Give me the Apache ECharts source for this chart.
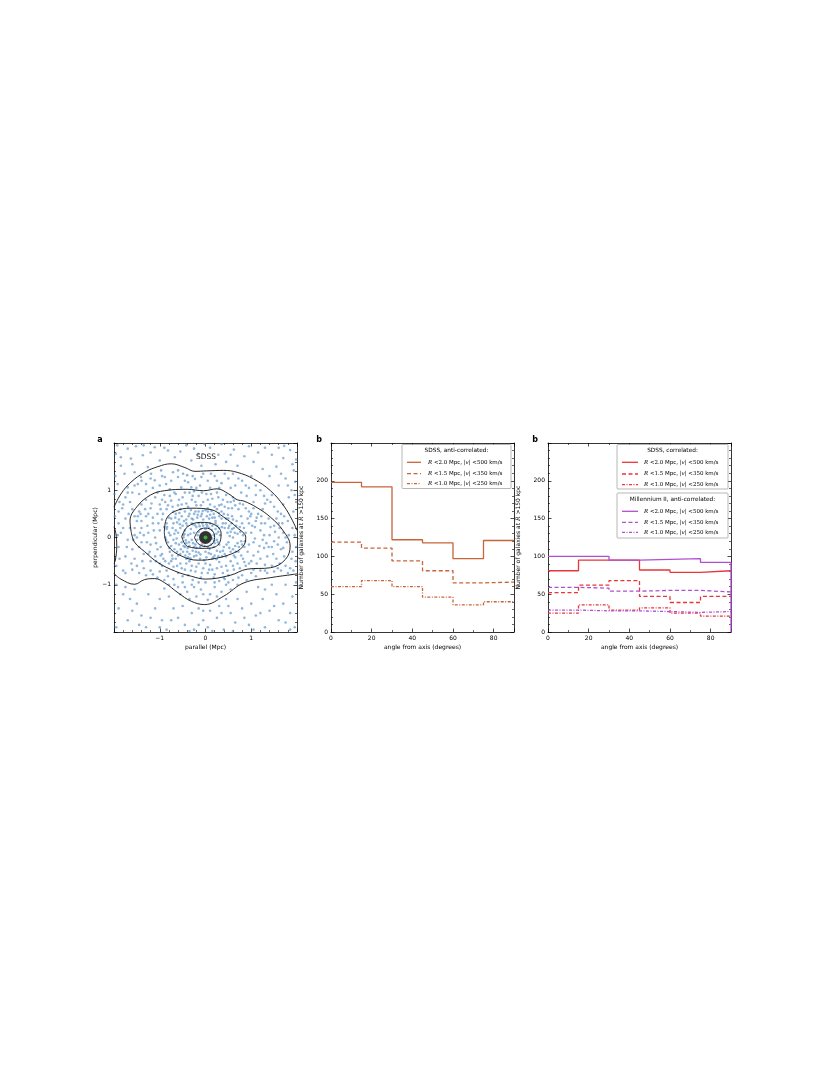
<!DOCTYPE html>
<html><head><meta charset="utf-8">
<script src="https://cdn.jsdelivr.net/npm/echarts@6/dist/echarts.min.js"></script>
<style>html,body{margin:0;padding:0;background:#fff}#c{width:830px;height:1075px}</style>
</head><body><div id="c"></div>
<script>
// ---------- DATA ----------
const binEdges = [0, 15, 30, 45, 60, 75, 90];
// panel b: SDSS anti-correlated
const bR20 = [198, 192, 122, 118, 97, 121];
const bR15 = [119, 111, 94, 81, 65, 66];
const bR10 = [60, 68, 60, 46, 36, 40];
// panel c: SDSS correlated
const cSdssR20 = [81, 95, 95, 82, 79, 81];
const cSdssR15 = [52, 62, 68, 47, 39, 47];
const cSdssR10 = [25, 36, 29, 32, 25, 21];
// panel c: Millennium II anti-correlated
const cMilR20 = [100, 100, 95, 96, 97, 92];
const cMilR15 = [59, 58, 54, 55, 55, 53];
const cMilR10 = [29, 28, 28, 27, 26, 27];

const xTicksA = [-1, 0, 1];
const yTicksA = [-1, 0, 1];

// panel a: galaxy positions (Mpc)
const galaxyPoints = [
[-1.93,1.95],[-1.52,1.93],[-1.11,1.91],[-0.82,1.84],[-0.42,1.95],[-1.96,1.77],[-1.63,1.67],[-1.37,1.74],[-1.0,1.63],[-0.67,1.7],[-0.31,1.63],[-0.16,1.77],[-1.85,1.52],[-1.26,1.49],[-0.09,1.52],[0.1,1.9],[0.28,1.75],[0.62,1.86],[0.95,1.93],[1.3,1.9],[1.72,1.94],[1.98,1.65],[1.93,1.42],[1.7,1.68],[1.45,1.75],[1.05,1.6],[0.85,1.72],[0.45,1.6],[0.22,1.55],[-0.55,1.82],[-1.7,1.88],[1.55,1.5],[1.25,1.45],[0.7,1.52],[-0.02,1.98],[0.35,1.98],[1.85,1.85],[-1.2,1.8],[1.96,1.18],[1.88,1.0],[1.98,0.75],[1.75,1.25],[1.6,1.1],[1.82,0.85],
[-1.77,1.35],[-1.55,1.38],[-1.41,1.28],[-1.19,1.35],[-0.97,1.42],[-0.89,1.28],[-0.71,1.38],[-0.6,1.28],[-0.49,1.35],[-0.38,1.17],[-0.23,1.24],[-0.09,1.28],[-1.92,1.13],[-1.7,1.06],[-1.48,1.13],[-1.3,1.13],[-1.11,1.21],[-0.86,1.13],[-0.78,1.02],[-0.53,1.06],[-0.31,1.06],[-0.12,1.1],[-1.99,0.92],[0.05,1.2],[0.2,1.3],[0.35,1.15],[0.5,1.25],[0.65,1.1],[0.8,1.2],[0.95,1.05],[1.1,0.9],[1.2,1.0],[1.35,0.8],[1.5,0.65],[1.45,0.9],[1.65,0.5],[1.8,0.35],[1.7,0.7],[1.9,0.2],[0.9,0.88],[1.05,0.75],[1.25,0.6],[0.12,1.35],[0.6,1.35],[-1.88,0.75],[-1.75,0.85],[-1.6,0.95],[-1.45,0.92],[-1.3,0.98],[-1.15,1.05],[-1.0,1.1],[-0.4,1.32],[-0.2,1.05],[0.3,1.05],[1.0,1.3],[-1.65,0.75],[-1.82,0.62],[1.3,0.72],[0.78,0.95],
[1.95,0.05],[1.9,-0.3],[1.97,-0.5],[1.85,-0.65],[1.98,-0.2],[1.92,-0.7],
[-1.98,0.45],[-1.9,0.3],[-1.75,0.4],[-1.65,0.2],[-1.85,0.1],[-1.7,-0.05],[-1.9,-0.2],[-1.6,-0.25],[-1.75,-0.4],[-1.95,-0.6],[-1.62,-0.55],[-1.8,-0.7],[-1.5,-0.6],[-1.68,0.5],[-1.58,-0.05],[-1.88,-0.45],[-1.55,0.45],
[-1.4,0.7],[-1.3,0.8],[-1.2,0.62],[-1.1,0.85],[-1.0,0.7],[-0.9,0.9],[-0.85,0.6],[-0.75,0.78],[-0.65,0.92],[-0.6,0.68],[-0.5,0.85],[-0.42,0.72],[-0.35,0.95],[-0.3,0.8],[-0.2,0.68],[-0.15,0.88],[-0.05,0.75],[0.02,0.92],[0.1,0.7],[0.15,0.82],[0.25,0.95],[0.3,0.68],[0.38,0.8],[0.45,0.9],[0.5,0.62],[0.55,0.75],[0.65,0.68],[0.72,0.6],[0.82,0.7],[0.95,0.55],[1.05,0.62],[1.15,0.5],[-1.45,0.55],[-1.25,0.5],[-0.95,0.8],[-0.55,0.6],[0.05,0.62],[0.42,0.65],[-0.25,0.98],[-1.05,0.95],[0.6,0.85],[-0.7,0.55],
[-1.5,0.35],[-1.4,0.2],[-1.5,0.0],[-1.45,-0.2],[-1.35,-0.35],[-1.3,0.45],[-1.25,0.1],[-1.2,-0.15],[-1.15,0.3],[-1.1,-0.4],[-1.05,0.5],[-1.0,0.15],[-0.98,-0.2],[-0.95,0.38],[-1.2,-0.5],[-1.35,0.05],[-1.1,0.0],[-0.92,-0.45],[-1.42,0.5],[-1.28,-0.1],[-1.0,-0.55],[-1.55,0.2],[-1.38,-0.5],[-0.9,0.22],[-1.15,0.42],[-1.05,-0.25],
[0.95,0.3],[1.0,0.1],[1.05,-0.1],[1.1,0.35],[1.15,-0.3],[1.2,0.15],[1.25,-0.05],[1.3,0.3],[1.35,-0.4],[1.4,0.05],[1.45,-0.2],[1.5,0.25],[1.55,-0.45],[1.6,0.0],[1.65,-0.25],[1.7,0.1],[1.72,-0.4],[1.78,-0.1],[0.92,-0.3],[1.0,-0.5],[1.12,-0.55],[1.3,-0.58],[1.45,-0.6],[1.62,-0.55],[1.38,0.4],[1.22,0.45],[0.98,0.45],[1.55,0.4],[1.08,0.22],[1.28,-0.22],[1.5,-0.08],[1.68,0.3],
[-0.95,-0.6],[-0.85,-0.7],[-0.75,-0.5],[-0.7,-0.62],[-0.6,-0.75],[-0.55,-0.55],[-0.45,-0.68],[-0.38,-0.8],[-0.3,-0.6],[-0.22,-0.72],[-0.15,-0.55],[-0.1,-0.85],[-0.05,-0.65],[0.05,-0.75],[0.1,-0.58],[0.18,-0.85],[0.25,-0.65],[0.3,-0.52],[0.38,-0.75],[0.45,-0.6],[0.5,-0.8],[0.55,-0.5],[0.62,-0.68],[0.7,-0.55],[0.75,-0.65],[0.82,-0.45],[0.88,-0.6],[-0.65,-0.45],[-0.28,-0.9],[0.15,-0.68],[0.65,-0.42],[-0.8,-0.55],[-0.5,-0.82],[0.42,-0.88],[0.0,-0.55],[-0.35,-0.5],
[-0.85,0.3],[-0.8,0.1],[-0.82,-0.1],[-0.75,0.4],[-0.72,0.2],[-0.7,-0.05],[-0.68,-0.25],[-0.65,0.5],[-0.62,0.32],[-0.6,0.1],[-0.58,-0.15],[-0.55,-0.35],[-0.52,0.45],[-0.5,0.25],[-0.45,0.55],[-0.42,0.38],[-0.4,-0.3],[-0.38,-0.42],[-0.35,0.5],[-0.3,0.4],[-0.28,-0.28],[-0.25,-0.4],[-0.22,0.55],[-0.18,0.42],[-0.15,-0.32],[-0.12,-0.45],[-0.08,0.5],[-0.05,0.38],[0.0,-0.3],[0.02,-0.42],[0.05,0.55],[0.08,0.4],[0.12,-0.35],[0.15,-0.45],[0.18,0.5],[0.22,0.35],[0.25,-0.28],[0.28,-0.4],[0.3,0.45],[0.35,0.55],[0.38,0.3],[0.4,-0.2],[0.42,-0.35],[0.45,0.4],[0.48,0.1],[0.5,-0.1],[0.52,0.25],[0.55,-0.3],[0.58,0.45],[0.6,0.0],[0.62,0.2],[0.65,-0.18],[0.68,0.35],[0.7,0.08],[0.72,-0.3],[0.75,0.22],[0.78,-0.08],[0.8,0.3],[0.82,0.05],[0.85,-0.2],[-0.88,0.0],[-0.78,-0.3],[-0.65,0.15],[-0.6,-0.38],[-0.48,0.05],[-0.45,-0.2],[-0.35,-0.35],[-0.2,-0.38],[-0.1,0.45],[0.1,0.48],[0.2,-0.38],[0.38,-0.28],[0.42,0.2],[0.55,0.12],[0.6,0.38],[0.7,-0.12],[-0.58,0.38],[-0.75,-0.18],[-0.7,0.3],[-0.55,0.2],[-0.32,0.58],[0.0,0.58],[0.25,0.6],[0.45,-0.4],[0.62,-0.38],[-0.42,-0.45],[-0.85,0.18],[0.88,0.1],[0.78,0.45],[-0.65,-0.12],[-0.52,-0.1],[0.52,-0.22],[0.35,0.4],[-0.25,0.5],[0.15,0.42],[-0.15,0.55],[0.4,0.5],[0.5,0.4],
[-0.48,0.0],[-0.45,0.15],[-0.42,-0.12],[-0.4,0.25],[-0.38,0.05],[-0.35,-0.18],[-0.32,0.18],[-0.3,-0.05],[-0.28,0.28],[-0.25,0.1],[-0.22,-0.15],[-0.2,0.22],[-0.18,-0.05],[-0.15,0.3],[-0.12,-0.2],[-0.1,0.18],[-0.05,0.25],[-0.02,-0.18],[0.02,0.28],[0.05,-0.2],[0.08,0.2],[0.12,-0.15],[0.15,0.25],[0.18,0.05],[0.2,-0.12],[0.22,0.18],[0.25,-0.05],[0.28,0.12],[0.3,-0.15],[0.32,0.05],[-0.42,0.3],[-0.48,-0.18],[0.18,-0.2],[-0.3,0.3],[0.1,0.3],[-0.2,-0.22],[0.26,0.25],[-0.15,0.12],[0.15,-0.02],[-0.36,-0.1],[0.0,0.18],[-0.08,-0.15],[0.22,0.3],[-0.25,-0.2],
[-1.45,-0.75],[-1.3,-0.8],[-1.2,-0.7],[-1.05,-0.85],[-0.9,-0.9],[-0.8,-1.0],[-0.7,-0.88],[-0.6,-1.05],[-0.5,-0.95],[-0.4,-1.15],[-0.3,-1.0],[-0.2,-1.25],[-0.1,-1.1],[0.0,-0.95],[0.1,-1.2],[0.2,-1.05],[0.3,-0.92],[0.35,-1.15],[0.45,-1.0],[0.55,-1.1],[0.6,-0.9],[0.7,-1.0],[0.8,-0.8],[0.9,-0.9],[1.0,-0.75],[1.1,-0.82],[1.2,-0.7],[1.35,-0.75],[1.5,-0.72],[1.65,-0.7],[1.75,-0.6],[-0.35,-1.3],[0.05,-1.32],[-0.55,-1.2],[0.25,-1.25],[-1.6,-0.68],[-1.75,-0.75],[-0.15,-0.95],[0.4,-0.85],[-0.9,-1.08],
[-1.95,-1.0],[-1.8,-1.2],[-1.9,-1.5],[-1.7,-1.75],[-1.95,-1.9],[-1.55,-1.1],[-1.5,-1.4],[-1.4,-1.65],[-1.3,-1.9],[-1.25,-1.2],[-1.1,-1.5],[-1.0,-1.3],[-0.95,-1.75],[-0.85,-1.95],[-0.7,-1.5],[-0.6,-1.7],[-0.5,-1.45],[-0.45,-1.85],[-0.3,-1.6],[-0.25,-1.95],[-0.15,-1.5],[-0.05,-1.75],[0.05,-1.9],[0.1,-1.55],[0.25,-1.7],[0.3,-1.45],[0.4,-1.95],[0.45,-1.3],[0.55,-1.6],[0.65,-1.8],[0.7,-1.3],[0.8,-1.5],[0.9,-1.15],[0.95,-1.85],[1.0,-1.4],[1.1,-1.65],[1.15,-1.05],[1.25,-1.3],[1.3,-1.9],[1.4,-1.55],[1.45,-1.0],[1.55,-1.2],[1.6,-1.75],[1.7,-1.4],[1.75,-1.0],[1.85,-1.6],[1.9,-1.25],[1.95,-1.9],[1.98,-0.95],[1.85,-1.95],[-1.65,-1.3],[-0.8,-1.25],[0.15,-1.98],[-0.35,-1.98],[0.6,-1.98],[1.2,-1.6],[-1.2,-1.7],[0.85,-1.7],[-0.05,-1.55],
[-0.8,0.42],[-0.77,0.05],[-0.73,-0.38],[-0.66,0.42],[-0.63,-0.02],[-0.57,0.52],[-0.54,-0.25],[-0.47,0.35],[-0.44,-0.38],[-0.37,0.45],[-0.33,-0.44],[-0.27,0.38],[-0.21,-0.3],[-0.17,0.48],[-0.11,-0.36],[-0.06,0.56],[-0.03,-0.48],[0.03,0.45],[0.07,-0.33],[0.13,0.56],[0.17,-0.42],[0.2,0.42],[0.24,-0.46],[0.29,0.52],[0.32,-0.3],[0.36,0.22],[0.44,0.3],[0.46,-0.15],[0.49,0.48],[0.53,0.03],[0.57,0.3],[0.6,-0.25],[0.64,0.1],[0.67,0.25],[0.73,-0.2],[0.76,0.12],[0.8,-0.15],[0.84,0.2],[0.86,-0.08],[-0.86,-0.05],[-0.84,0.22],[-0.79,-0.22],[-0.68,0.08],[-0.62,-0.3],[-0.56,0.28],[0.36,-0.4],[0.5,0.2],[0.66,-0.3],[0.58,0.18],[-0.49,-0.3],
[-0.46,0.08],[-0.43,-0.06],[-0.33,0.08],[-0.27,-0.12],[-0.23,0.26],[-0.17,0.05],[-0.13,0.24],[-0.07,0.3],[0.04,0.24],[0.09,-0.24],[0.14,0.16],[0.19,-0.07],[0.24,0.08],[0.27,-0.1],[0.3,0.2],[-0.39,-0.22],
[-1.48,0.45],[-1.43,0.1],[-1.4,-0.1],[-1.32,0.6],[-1.27,0.25],[-1.22,-0.3],[-1.18,0.72],[-1.13,0.15],[-1.08,-0.12],[-1.03,0.3],[-0.98,0.6],[-0.95,-0.35],[-0.93,0.5],[-0.88,0.75],[-0.82,0.68],[-0.78,0.88],[-0.72,0.65],[-0.68,0.95],[-0.58,0.8],[-0.52,0.7],[-0.45,0.95],[-0.38,0.65],[-0.28,0.88],[-0.22,0.75],[-0.1,0.68],[-0.08,0.95],[0.05,0.8],[0.12,0.92],[0.2,0.65],[0.28,0.85],[0.35,0.7],[0.48,0.75],[0.58,0.62],[0.62,0.78],[0.75,0.72],[0.88,0.62],[0.92,0.4],[1.0,0.5],[1.02,0.25],[1.08,-0.02],[1.12,0.42],[1.18,-0.18],[1.22,0.3],[1.28,0.05],[1.33,-0.12],[1.42,0.22],[1.48,-0.35],[1.52,0.12],[1.58,-0.15],[1.62,0.2],[1.7,-0.22],[1.75,0.0],[0.95,-0.15],[1.05,-0.38],[1.2,-0.45],[1.38,-0.2],[0.95,-0.55],[0.85,-0.52],[0.78,-0.38],[0.6,-0.6],[0.48,-0.7],[0.35,-0.62],[0.2,-0.78],[0.08,-0.68],[-0.08,-0.75],[-0.2,-0.62],[-0.32,-0.7],[-0.42,-0.55],[-0.52,-0.65],[-0.62,-0.6],[-0.72,-0.45],[-0.88,-0.5],[-0.98,-0.38],[-1.08,-0.5],[-1.25,-0.35],[-1.4,0.35],[-1.55,0.05],
[-1.9,0.55],[-1.8,0.7],[-1.7,0.95],[-1.55,1.1],[-1.4,1.2],[-1.2,1.25],[-0.95,1.3],[-0.75,1.2],[-0.6,1.42],[-0.45,1.2],[-0.28,1.3],[-0.05,1.35],[0.1,1.05],[0.25,1.2],[0.42,1.35],[0.55,1.05],[0.72,1.25],[0.88,1.1],[1.1,1.1],[1.28,0.88],[1.42,0.75],[1.58,0.55],[1.6,0.3],[1.72,0.45],[1.82,0.05],[1.88,-0.45],[1.8,-0.75],[1.58,-0.65],[1.3,-0.7],[1.05,-0.68],[0.72,-0.85],[0.5,-0.95],[0.2,-0.95],[-0.05,-1.2],[-0.25,-1.05],[-0.45,-1.05],[-0.68,-1.0],[-0.82,-0.82],[-1.0,-0.72],[-1.15,-0.78],[-1.35,-0.65],[-1.55,-0.45],[-1.72,-0.2],[-1.8,0.2],[-1.92,0.05],[-1.6,0.6],
[-1.6,1.55],[-1.35,1.95],[-0.9,1.9],[-0.25,1.88],[0.55,1.75],[1.15,1.8],[1.6,1.9],[1.9,1.55],[1.4,1.3],[1.65,1.35],[1.8,1.1],[1.95,0.9],[1.92,0.55],[-1.97,1.3],[-1.85,1.7],[-1.45,-1.85],[-1.0,-1.9],[-0.15,-1.85],[0.5,-1.45],[1.05,-1.95],[1.5,-1.45],[1.75,-1.8],[-1.75,-1.05],[-1.6,-1.55],[-0.75,-1.75],[0.35,-1.6],[1.3,-1.1]
];

// panel a: density contours (Mpc)
const contourOuterTop = [[-2,0.64],[-1.85,0.92],[-1.63,1.17],[-1.33,1.38],[-1.04,1.5],[-0.75,1.56],[-0.45,1.48],[-0.23,1.4],[0.02,1.41],[0.4,1.42],[0.69,1.38],[1.05,1.24],[1.42,0.99],[1.71,0.67],[1.9,0.36],[2.0,0.15]];
const contourOuterLeft = [[-2.0,0.23],[-1.96,0.09],[-1.94,-0.19],[-1.97,-0.48],[-2.0,-0.55]];
const contourOuterBottom = [[-2.0,-0.76],[-1.85,-0.88],[-1.55,-0.99],[-1.33,-0.89],[-1.11,-0.87],[-0.89,-0.96],[-0.6,-1.17],[-0.31,-1.35],[-0.02,-1.42],[0.4,-1.24],[0.84,-0.96],[1.42,-0.85],[1.93,-0.78],[2.0,-0.77]];
const contour2 = [[-1.62,0.1],[-1.65,0.35],[-1.5,0.65],[-1.2,0.9],[-0.9,0.99],[-0.4,1.02],[-0.04,0.99],[0.25,1.03],[0.51,0.92],[0.69,0.8],[0.84,0.77],[1.13,0.63],[1.42,0.43],[1.7,0.14],[1.85,-0.18],[1.75,-0.46],[1.42,-0.64],[0.91,-0.67],[0.54,-0.8],[0.0,-0.88],[-0.31,-0.82],[-0.67,-0.71],[-1.04,-0.53],[-1.33,-0.3],[-1.55,-0.1],[-1.62,0.1]];
const contour3 = [[-0.9,0.1],[-0.86,0.38],[-0.68,0.55],[-0.32,0.62],[0.12,0.59],[0.4,0.43],[0.69,0.21],[0.88,0.0],[0.82,-0.19],[0.56,-0.35],[0.12,-0.46],[-0.16,-0.48],[-0.53,-0.39],[-0.82,-0.18],[-0.9,0.1]];
const contour4 = [[-0.52,0.02],[-0.39,0.23],[-0.1,0.32],[0.2,0.27],[0.34,0.09],[0.27,-0.16],[-0.02,-0.23],[-0.39,-0.19],[-0.52,0.02]];
const contour5 = [[-0.24,0],[-0.15,0.15],[0,0.2],[0.15,0.14],[0.2,0],[0.14,-0.14],[0,-0.19],[-0.16,-0.13],[-0.24,0]];
const centerGalaxy = [[0, 0]];

// ---------- STYLE ----------
const FONT = 'DejaVu Sans';
const BROWN = '#c8643a', RED = '#e8363a', PURPLE = '#b050d0';
const DASH = [4, 2.5], DOTDASH = [3, 1.5, 1, 1.5];
const G = [
  {left: 114, top: 443, width: 183, height: 189},
  {left: 331, top: 443, width: 183, height: 189},
  {left: 548, top: 443, width: 183, height: 189}
];
const minus = v => String(v).replace('-', '\u2212');

function axisBase(gi, pos, min, max, interval, minorSplit, showLabel, fmt) {
  return {
    type: 'value', gridIndex: gi, position: pos, min, max, interval,
    axisLine: {show: true, onZero: false, lineStyle: {color: '#000', width: 0.8}},
    axisTick: {show: true, inside: true, length: 3.5, lineStyle: {color: '#000', width: 0.7}},
    minorTick: {show: true, splitNumber: minorSplit, length: 2, lineStyle: {color: '#000', width: 0.6}},
    splitLine: {show: false}, minorSplitLine: {show: false},
    axisLabel: {show: showLabel, fontSize: 6, color: '#000', fontFamily: FONT, margin: 3, formatter: fmt}
  };
}
const fmtA = v => (xTicksA.indexOf(v) >= 0 ? minus(v) : '');
const fmtX = v => (v % 20 === 0 && v < 90 ? String(v) : '');
const fmtY = v => (v < 250 ? String(v) : '');

const xAxis = [
  Object.assign(axisBase(0, 'bottom', -2, 2, 1, 5, true, fmtA), {name: 'parallel (Mpc)', nameLocation: 'middle', nameGap: 12, nameTextStyle: {fontSize: 6, fontFamily: FONT, color: '#000'}}),
  axisBase(0, 'top', -2, 2, 1, 5, false),
  Object.assign(axisBase(1, 'bottom', 0, 90, 20, 2, true, fmtX), {name: 'angle from axis (degrees)', nameLocation: 'middle', nameGap: 12, nameTextStyle: {fontSize: 6, fontFamily: FONT, color: '#000'}}),
  axisBase(1, 'top', 0, 90, 20, 2, false),
  Object.assign(axisBase(2, 'bottom', 0, 90, 20, 2, true, fmtX), {name: 'angle from axis (degrees)', nameLocation: 'middle', nameGap: 12, nameTextStyle: {fontSize: 6, fontFamily: FONT, color: '#000'}}),
  axisBase(2, 'top', 0, 90, 20, 2, false)
];
const yName = {
  name: '{t|Number of galaxies at }{i|R}{t| >150 kpc}', nameLocation: 'middle', nameGap: 27,
  nameTextStyle: {fontSize: 6, fontFamily: FONT, color: '#000', rich: {t: {fontSize: 6, fontFamily: FONT}, i: {fontSize: 6, fontFamily: 'DejaVu Serif', fontStyle: 'italic'}}}
};
const yAxis = [
  Object.assign(axisBase(0, 'left', -2, 2, 1, 5, true, fmtA), {name: 'perpendicular (Mpc)', nameLocation: 'middle', nameGap: 13, nameTextStyle: {fontSize: 6, fontFamily: FONT, color: '#000'}}),
  axisBase(0, 'right', -2, 2, 1, 5, false),
  Object.assign(axisBase(1, 'left', 0, 250, 50, 5, true, fmtY), yName),
  axisBase(1, 'right', 0, 250, 50, 5, false),
  Object.assign(axisBase(2, 'left', 0, 250, 50, 5, true, fmtY), yName),
  axisBase(2, 'right', 0, 250, 50, 5, false)
];

function hist(vals, drop) {
  const d = binEdges.map((e, i) => [e, vals[Math.min(i, vals.length - 1)]]);
  if (drop) d.push([90, 0]);
  return d;
}
function stepSeries(name, gi, vals, color, type, drop) {
  return {
    name, type: 'line', step: 'end', xAxisIndex: gi * 2, yAxisIndex: gi * 2,
    data: hist(vals, drop), showSymbol: false, silent: true, clip: true,
    lineStyle: {color, width: 1.3, type}
  };
}
function contourSeries(data) {
  return {type: 'line', xAxisIndex: 0, yAxisIndex: 0, data, showSymbol: false, smooth: 0.4, silent: true, clip: true,
    lineStyle: {color: '#111', width: 0.9}};
}

const series = [
  {type: 'scatter', xAxisIndex: 0, yAxisIndex: 0, data: galaxyPoints, symbolSize: 2.6, silent: true,
   itemStyle: {color: 'rgba(82,142,204,0.8)'}},
  contourSeries(contourOuterTop), contourSeries(contourOuterLeft), contourSeries(contourOuterBottom),
  contourSeries(contour2), contourSeries(contour3), contourSeries(contour4), contourSeries(contour5),
  {type: 'scatter', xAxisIndex: 0, yAxisIndex: 0, data: centerGalaxy, symbolSize: 13, silent: true, itemStyle: {color: '#000'}},
  {type: 'scatter', xAxisIndex: 0, yAxisIndex: 0, data: centerGalaxy, symbolSize: 4, silent: true, itemStyle: {color: '#3bd23b'}},
  stepSeries('SDSS R<2.0', 1, bR20, BROWN, 'solid'),
  stepSeries('SDSS R<1.5', 1, bR15, BROWN, DASH),
  stepSeries('SDSS R<1.0', 1, bR10, BROWN, DOTDASH),
  stepSeries('SDSS corr R<2.0', 2, cSdssR20, RED, 'solid'),
  stepSeries('SDSS corr R<1.5', 2, cSdssR15, RED, DASH),
  stepSeries('SDSS corr R<1.0', 2, cSdssR10, RED, DOTDASH),
  stepSeries('MII R<2.0', 2, cMilR20, PURPLE, 'solid', true),
  stepSeries('MII R<1.5', 2, cMilR15, PURPLE, DASH),
  stepSeries('MII R<1.0', 2, cMilR10, PURPLE, DOTDASH)
];

// ---------- legends & labels (graphic) ----------
const LF = 5.5;
const richLeg = {
  t: {fontSize: LF, fontFamily: FONT, fill: '#000'},
  i: {fontSize: LF, fontFamily: 'DejaVu Serif', fontStyle: 'italic', fill: '#000'},
  m: {fontSize: LF, fontFamily: 'DejaVu Serif', fill: '#000'}
};
const entryLabels = [
  '{i|R}{m| <2.0}{t| Mpc, }{m||}{i|v}{m|| <500}{t| km/s}',
  '{i|R}{m| <1.5}{t| Mpc, }{m||}{i|v}{m|| <350}{t| km/s}',
  '{i|R}{m| <1.0}{t| Mpc, }{m||}{i|v}{m|| <250}{t| km/s}'
];
function legendBox(x, y, w, h, title, color, rows, sx0, sx1, tx) {
  const els = [
    {type: 'rect', shape: {x, y, width: w, height: h, r: 1}, style: {fill: '#fff', stroke: '#999', lineWidth: 0.7}, z: 100},
    {type: 'text', x: x + w / 2, y: y + 6.3, style: {text: title, fontSize: 5.8, fontFamily: FONT, fill: '#000', align: 'center', verticalAlign: 'middle'}, z: 101}
  ];
  const types = [null, DASH, DOTDASH];
  rows.forEach((ry, k) => {
    els.push({type: 'line', shape: {x1: sx0, y1: ry, x2: sx1, y2: ry},
      style: {stroke: color, lineWidth: 1.3, lineDash: types[k]}, z: 101});
    els.push({type: 'text', x: tx, y: ry, style: {text: entryLabels[k], rich: richLeg, align: 'left', verticalAlign: 'middle'}, z: 101});
  });
  return els;
}
const graphic = [
  {type: 'text', x: 100, y: 440, style: {text: 'a', fontSize: 8, fontWeight: 'bold', fontFamily: FONT, fill: '#000', align: 'center', verticalAlign: 'middle'}},
  {type: 'text', x: 319, y: 440, style: {text: 'b', fontSize: 8, fontWeight: 'bold', fontFamily: FONT, fill: '#000', align: 'center', verticalAlign: 'middle'}},
  {type: 'text', x: 535, y: 440, style: {text: 'b', fontSize: 8, fontWeight: 'bold', fontFamily: FONT, fill: '#000', align: 'center', verticalAlign: 'middle'}},
  {type: 'text', x: 206, y: 457, style: {text: 'SDSS', fontSize: 7.5, fontFamily: FONT, fill: '#111', align: 'center', verticalAlign: 'middle'}, z: 100},
  ...legendBox(402, 444.5, 109, 44, 'SDSS, anti-correlated:', BROWN, [462.3, 473.7, 483.7], 407, 421, 428),
  ...legendBox(617, 444.5, 111, 44.5, 'SDSS, correlated:', RED, [462.3, 474, 484.7], 622, 638, 644),
  ...legendBox(617, 493, 111, 45, 'Millennium II, anti-correlated:', PURPLE, [511.3, 522.3, 532.3], 622, 638, 644)
];

const chart = echarts.init(document.getElementById('c'), null, {renderer: 'canvas'});
chart.setOption({
  animation: false,
  backgroundColor: '#fff',
  textStyle: {fontFamily: FONT},
  grid: G.map(g => Object.assign({outerBoundsMode: 'none'}, g)),
  xAxis, yAxis, series, graphic
});
</script>
</body></html>
